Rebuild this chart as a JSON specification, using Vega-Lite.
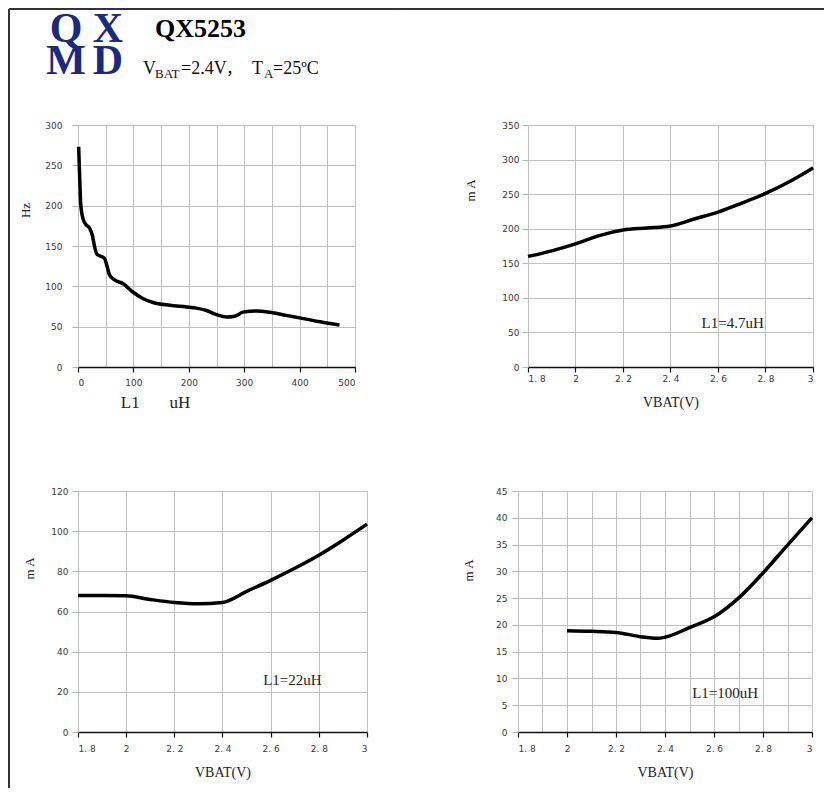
{
  "$schema": "https://vega.github.io/schema/vega-lite/v6.json",
  "padding": {"left": 7, "top": 7, "right": 0, "bottom": 0},
  "background": "white",
  "spacing": -4,
  "config": {
    "view": {"stroke": "#bdbdbd", "strokeWidth": 1},
    "axis": {
      "labelFont": "DejaVu Sans", "labelFontSize": 9, "labelColor": "#3a3a3a",
      "titleFont": "Liberation Serif", "titleFontWeight": "normal", "titleFontSize": 14, "titleColor": "#222222",
      "gridColor": "#c2c2c2", "gridWidth": 1
    },
    "axisX": {"domainColor": "#111111", "domainWidth": 1.5, "tickColor": "#111111", "tickSize": 5, "tickWidth": 1.2},
    "axisY": {"domain": false, "tickColor": "#b5b5b5", "tickSize": 6, "titleFontSize": 13},
    "text": {"font": "Liberation Serif", "color": "#222222"}
  },
  "vconcat": [
    {
      "spacing": -4,
      "hconcat": [
        {
          "width": 277, "height": 242,
          "encoding": {
            "x": {"field": "x", "type": "quantitative", "scale": {"domain": [0, 500], "nice": false, "zero": false},
              "axis": {"values": [0, 50, 100, 150, 200, 250, 300, 350, 400, 450, 500],
                "labelExpr": "datum.value % 100 === 0 ? datum.label : ''",
                "tickOpacity": {"condition": {"test": "datum.value % 100 === 0", "value": 1}, "value": 0},
                "title": "L1\u00a0\u00a0\u00a0\u00a0\u00a0\u00a0\u00a0uH", "titleFontSize": 17, "titleX": 77, "titlePadding": 7, "labelPadding": 6}},
            "y": {"field": "y", "type": "quantitative", "scale": {"domain": [0, 300], "nice": false, "zero": false},
              "axis": {"values": [0, 50, 100, 150, 200, 250, 300], "title": "Hz", "titleY": 85, "titlePadding": 12, "labelPadding": 10}}
          },
          "layer": [
            {
              "data": {"values": [
                {"x": 1.2, "y": 273}, {"x": 3, "y": 236}, {"x": 4.8, "y": 203}, {"x": 9, "y": 184},
                {"x": 15, "y": 176}, {"x": 21, "y": 172}, {"x": 26, "y": 163}, {"x": 30, "y": 149},
                {"x": 34, "y": 140}, {"x": 42, "y": 137}, {"x": 48, "y": 134.5}, {"x": 52, "y": 126},
                {"x": 57, "y": 114}, {"x": 66, "y": 108}, {"x": 81, "y": 103.5}, {"x": 99, "y": 93},
                {"x": 117, "y": 85}, {"x": 135.5, "y": 80}, {"x": 166, "y": 76.5}, {"x": 196, "y": 74.5},
                {"x": 214, "y": 73}, {"x": 232, "y": 70}, {"x": 250, "y": 65}, {"x": 268, "y": 62},
                {"x": 283, "y": 63}, {"x": 298, "y": 68}, {"x": 322, "y": 69.5}, {"x": 346, "y": 68},
                {"x": 376, "y": 64}, {"x": 407, "y": 60}, {"x": 437, "y": 56}, {"x": 472, "y": 52}
              ]},
              "mark": {"type": "line", "color": "#000000", "strokeWidth": 3.5, "interpolate": "monotone"}
            },
            {
              "data": {"values": [
                {"x": -124.55, "x2": 581.2, "y": 443.8, "y2": 443.8},
                {"x": -124.55, "x2": -124.55, "y": 443.8, "y2": -102.9}
              ]},
              "mark": {"type": "rule", "color": "#333333", "strokeWidth": 2},
              "encoding": {"x2": {"field": "x2"}, "y2": {"field": "y2"}}
            },
            {
              "data": {"values": [
                {"x": -21.7, "y": 402.9, "t": "Q"}, {"x": 54.2, "y": 402.9, "t": "X"},
                {"x": -21.7, "y": 363.2, "t": "M"}, {"x": 54.2, "y": 363.2, "t": "D"}
              ]},
              "mark": {"type": "text", "font": "Liberation Serif", "fontWeight": "bold", "fontSize": 42, "color": "#1B2A7B", "align": "center", "baseline": "alphabetic"},
              "encoding": {"text": {"field": "t"}}
            },
            {
              "data": {"values": [{"x": 139.0, "y": 409.1, "t": "QX5253"}]},
              "mark": {"type": "text", "font": "Liberation Serif", "fontWeight": "bold", "fontSize": 26, "color": "#000000", "align": "left", "baseline": "alphabetic"},
              "encoding": {"text": {"field": "t"}}
            },
            {
              "data": {"values": [
                {"x": 117.3, "y": 363.2, "t": "V"}, {"x": 185.9, "y": 363.2, "t": "=2.4V"},
                {"x": 314.1, "y": 363.2, "t": "T"}, {"x": 352.0, "y": 363.2, "t": "=25ºC"}
              ]},
              "mark": {"type": "text", "font": "Liberation Serif", "fontSize": 18, "color": "#111111", "align": "left", "baseline": "alphabetic"},
              "encoding": {"text": {"field": "t"}}
            },
            {
              "data": {"values": [{"x": 267.0, "y": 363.2, "t": "，"}]},
              "mark": {"type": "text", "font": "Noto Sans CJK SC", "fontSize": 16, "color": "#111111", "align": "left", "baseline": "alphabetic"},
              "encoding": {"text": {"field": "t"}}
            },
            {
              "data": {"values": [
                {"x": 139.0, "y": 358.3, "t": "BAT"}, {"x": 335.7, "y": 358.3, "t": "A"}
              ]},
              "mark": {"type": "text", "font": "Liberation Serif", "fontSize": 13, "color": "#111111", "align": "left", "baseline": "alphabetic"},
              "encoding": {"text": {"field": "t"}}
            }
          ]
        },
        {
          "width": 285, "height": 242,
          "encoding": {
            "x": {"field": "x", "type": "quantitative", "scale": {"domain": [1.8, 3], "nice": false, "zero": false},
              "axis": {"values": [1.8, 2, 2.2, 2.4, 2.6, 2.8, 3],
                "labelExpr": "replace(format(datum.value, '~g'), '.', '. ')",
                "title": "VBAT(V)", "titlePadding": 12, "labelPadding": 2}},
            "y": {"field": "y", "type": "quantitative", "scale": {"domain": [0, 350], "nice": false, "zero": false},
              "axis": {"values": [0, 50, 100, 150, 200, 250, 300, 350], "title": "m A", "titleY": 65, "titlePadding": 24, "labelPadding": 3}}
          },
          "layer": [
            {
              "data": {"values": [
                {"x": 1.8, "y": 160}, {"x": 1.9, "y": 168}, {"x": 2.0, "y": 178}, {"x": 2.1, "y": 190},
                {"x": 2.2, "y": 198}, {"x": 2.3, "y": 201}, {"x": 2.4, "y": 204}, {"x": 2.5, "y": 214},
                {"x": 2.6, "y": 224}, {"x": 2.7, "y": 237}, {"x": 2.8, "y": 251}, {"x": 2.9, "y": 268},
                {"x": 3.0, "y": 288}
              ]},
              "mark": {"type": "line", "color": "#000000", "strokeWidth": 3.5, "interpolate": "monotone"}
            },
            {
              "data": {"values": [{"x": 1.2611, "x2": 3.0463, "y": 517.8, "y2": 517.8}]},
              "mark": {"type": "rule", "color": "#333333", "strokeWidth": 2},
              "encoding": {"x2": {"field": "x2"}, "y2": {"field": "y2"}}
            },
            {
              "data": {"values": [{"x": 2.531, "y": 63.6, "t": "L1=4.7uH"}]},
              "mark": {"type": "text", "font": "Liberation Serif", "fontSize": 15, "color": "#222222", "align": "left", "baseline": "middle"},
              "encoding": {"text": {"field": "t"}}
            }
          ]
        }
      ]
    },
    {
      "spacing": 87,
      "hconcat": [
        {
          "width": 289, "height": 241,
          "encoding": {
            "x": {"field": "x", "type": "quantitative", "scale": {"domain": [1.8, 3], "nice": false, "zero": false},
              "axis": {"values": [1.8, 2, 2.2, 2.4, 2.6, 2.8, 3],
                "labelExpr": "replace(format(datum.value, '~g'), '.', '. ')",
                "title": "VBAT(V)", "titlePadding": 12, "labelPadding": 7}},
            "y": {"field": "y", "type": "quantitative", "scale": {"domain": [0, 120], "nice": false, "zero": false},
              "axis": {"values": [0, 20, 40, 60, 80, 100, 120], "title": "m A", "titleY": 77, "titlePadding": 14, "labelPadding": 4}}
          },
          "layer": [
            {
              "data": {"values": [
                {"x": 1.8, "y": 68}, {"x": 1.9, "y": 68}, {"x": 2.0, "y": 67.8}, {"x": 2.1, "y": 66},
                {"x": 2.2, "y": 64.5}, {"x": 2.3, "y": 63.8}, {"x": 2.4, "y": 64.5}, {"x": 2.5, "y": 70},
                {"x": 2.6, "y": 75.5}, {"x": 2.7, "y": 81.5}, {"x": 2.8, "y": 88}, {"x": 2.9, "y": 95.5},
                {"x": 3.0, "y": 103.5}
              ]},
              "mark": {"type": "line", "color": "#000000", "strokeWidth": 3.5, "interpolate": "monotone"}
            },
            {
              "data": {"values": [{"x": 1.5135, "x2": 1.5135, "y": 140.415, "y2": -27.88}]},
              "mark": {"type": "rule", "color": "#333333", "strokeWidth": 2},
              "encoding": {"x2": {"field": "x2"}, "y2": {"field": "y2"}}
            },
            {
              "data": {"values": [{"x": 2.569, "y": 25.9, "t": "L1=22uH"}]},
              "mark": {"type": "text", "font": "Liberation Serif", "fontSize": 15, "color": "#222222", "align": "left", "baseline": "middle"},
              "encoding": {"text": {"field": "t"}}
            }
          ]
        },
        {
          "width": 294, "height": 241,
          "encoding": {
            "x": {"field": "x", "type": "quantitative", "scale": {"domain": [1.8, 3], "nice": false, "zero": false},
              "axis": {"values": [1.8, 1.9, 2, 2.1, 2.2, 2.3, 2.4, 2.5, 2.6, 2.7, 2.8, 2.9, 3],
                "labelExpr": "round(datum.value * 10) % 2 === 0 ? replace(format(datum.value, '~g'), '.', '. ') : ''",
                "tickOpacity": {"condition": {"test": "round(datum.value * 10) % 2 === 0", "value": 1}, "value": 0},
                "title": "VBAT(V)", "titlePadding": 12, "labelPadding": 7}},
            "y": {"field": "y", "type": "quantitative", "scale": {"domain": [0, 45], "nice": false, "zero": false},
              "axis": {"values": [0, 5, 10, 15, 20, 25, 30, 35, 40, 45], "title": "m A", "titleY": 79, "titlePadding": 20, "labelPadding": 5}}
          },
          "layer": [
            {
              "data": {"values": [
                {"x": 2.0, "y": 18.9}, {"x": 2.1, "y": 18.8}, {"x": 2.2, "y": 18.6}, {"x": 2.3, "y": 17.8},
                {"x": 2.37, "y": 17.5}, {"x": 2.4, "y": 17.7}, {"x": 2.5, "y": 19.5}, {"x": 2.6, "y": 21.5},
                {"x": 2.7, "y": 25}, {"x": 2.8, "y": 29.7}, {"x": 2.9, "y": 34.9}, {"x": 3.0, "y": 40}
              ]},
              "mark": {"type": "line", "color": "#000000", "strokeWidth": 3.5, "interpolate": "monotone"}
            },
            {
              "data": {"values": [{"x": 2.511, "y": 7.28, "t": "L1=100uH"}]},
              "mark": {"type": "text", "font": "Liberation Serif", "fontSize": 15, "color": "#222222", "align": "left", "baseline": "middle"},
              "encoding": {"text": {"field": "t"}}
            }
          ]
        }
      ]
    }
  ]
}
